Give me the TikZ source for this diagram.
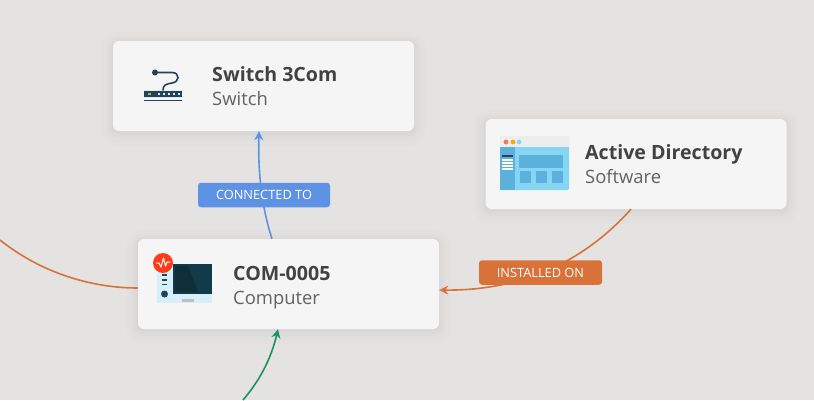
\documentclass[tikz,border=0pt]{standalone}
\usepackage{fontspec}
\setmainfont{Open Sans}
\usetikzlibrary{calc,positioning,arrows.meta}
\definecolor{BackGray}{RGB}{228, 227, 226}
\definecolor{CardWhite}{RGB}{245, 245, 245}
\definecolor{TitleDark}{RGB}{66, 66, 68}
\definecolor{SubGray}{RGB}{98, 98, 100}
\definecolor{LinkBlue}{RGB}{93, 146, 228}
\definecolor{LinkOrange}{RGB}{216, 114, 56}
\definecolor{LinkGreen}{RGB}{28, 148, 92}
\definecolor{IconSky}{RGB}{132, 214, 244}
\definecolor{IconPale}{RGB}{214, 239, 250}
\definecolor{IconMid}{RGB}{92, 176, 220}
\definecolor{IconInk}{RGB}{38, 66, 84}
\definecolor{ScreenDark}{RGB}{18, 58, 72}
\tikzset{
	softshadow/.style={
		preaction={draw=black, draw opacity=.008, line width=24pt, transform canvas={yshift=-3pt}},
		preaction={draw=black, draw opacity=.009, line width=17pt, transform canvas={yshift=-3pt}},
		preaction={draw=black, draw opacity=.010, line width=11pt, transform canvas={yshift=-2pt}},
		preaction={draw=black, draw opacity=.010, line width=6pt, transform canvas={yshift=-2pt}},
		preaction={draw=black, draw opacity=.010, line width=2pt, transform canvas={yshift=-1pt}},
	},
	cardbox/.style={softshadow, fill=CardWhite, rounded corners=6pt, minimum width=301pt, minimum height=90pt, inner sep=0pt},
	cardtitle/.style={anchor=base west, inner sep=0pt, text=TitleDark, font=\fontsize{19.6}{20}\selectfont\bfseries},
	cardsub/.style={anchor=base west, inner sep=0pt, text=SubGray, font=\fontsize{18.4}{19}\selectfont},
	linktag/.style={rounded corners=3pt, text=white, inner sep=0pt, minimum height=24.5pt, font=\fontsize{12.8}{13}\selectfont},
	linkline/.style={line width=1.6pt, -{Stealth[length=9pt,width=9pt]}},
}
\begin{document}
\begin{tikzpicture}
	\useasboundingbox (0pt,0pt) rectangle (814pt,-400pt);
	\fill[BackGray] (0pt,0pt) rectangle (814pt,-400pt);

	\node[cardbox] (switchCard) at (263.5pt,-86pt) {};
	\node[cardbox] (adCard) at (636pt,-164pt) {};
	\node[cardbox] (comCard) at (288.5pt,-284pt) {};

	\node[cardtitle] (switchTitle) at (212pt,-81pt) {Switch 3Com};
	\node[cardsub] (switchSub) at (212pt,-105pt) {Switch};
	\node[cardtitle] (adTitle) at (585pt,-159pt) {Active Directory};
	\node[cardsub] (adSub) at (585pt,-183pt) {Software};
	\node[cardtitle] (comTitle) at (233pt,-280pt) {COM-0005};
	\node[cardsub] (comSub) at (233pt,-304pt) {Computer};

	\coordinate (leftEnd) at (0pt,-240pt);
	\coordinate (greenEnd) at (243pt,-400pt);

	\draw[linkline, LinkBlue] ($(comCard.north)+(-16.5pt,0)$) .. controls (261pt,-205pt) and (258pt,-170pt) .. ($(switchCard.south)+(-4.5pt,0)$);
	\draw[linkline, LinkOrange] ($(adCard.south)+(-5pt,0)$) .. controls (590pt,-255pt) and (530pt,-291pt) .. (comCard.east |- 0,-290pt);
	\draw[line width=1.6pt, LinkOrange] (leftEnd) .. controls (40pt,-272pt) and (90pt,-288pt) .. (comCard.west |- 0,-288pt);
	\draw[linkline, LinkGreen] (greenEnd) .. controls (262pt,-378pt) and (272pt,-355pt) .. ($(comCard.south)+(-10.5pt,0)$);

	\node[linktag, fill=LinkBlue, minimum width=132pt] (connectedTag) at (264pt,-195pt) {CONNECTED TO};
	\node[linktag, fill=LinkOrange, minimum width=123pt] (installedTag) at (540.5pt,-272.5pt) {INSTALLED ON};

	% switch icon
	\fill[IconPale] (144pt,-89.5pt) rectangle (182pt,-98pt);
	\fill[IconInk] (144pt,-91pt) rectangle (182pt,-96.5pt);
	\fill[IconInk] (144pt,-99.5pt) rectangle (182pt,-101pt);
	\fill[yellow!70!black] (148pt,-93pt) rectangle (150.5pt,-95pt);
	\foreach \x in {158,163,168,173,178}
		\fill[IconPale] (\x pt,-93pt) rectangle +(2pt,-2pt);
	\draw[IconInk, line width=1.6pt, line cap=round] (153pt,-72.5pt) -- (172pt,-72.5pt) .. controls (180pt,-72.5pt) and (180pt,-82pt) .. (172pt,-83pt) .. controls (166pt,-84pt) and (163pt,-85pt) .. (163pt,-90pt);
	\fill[IconInk] (155pt,-72.5pt) circle (3pt);

	% computer icon
	\fill[IconPale] (157pt,-263pt) rectangle (173pt,-303pt);
	\fill[IconPale] (173pt,-294pt) rectangle (212pt,-303pt);
	\fill[ScreenDark] (173pt,-264pt) rectangle (212pt,-294pt);
	\fill[black!20!ScreenDark] (175pt,-266pt) -- (188pt,-266pt) -- (198pt,-292pt) -- (175pt,-292pt) -- cycle;
	\fill[gray!50] (182pt,-299pt) rectangle (194pt,-302pt);
	\foreach \y in {275,280,284.5}
		\draw[IconInk, line width=1.1pt] (162pt,-\y pt) -- (167pt,-\y pt);
	\fill[IconInk] (164.5pt,-294pt) circle (3.5pt);
	\fill[red!70!orange!90] (163pt,-263pt) circle (10pt);
	\draw[white, line width=1pt, line join=round] (156pt,-263pt) -- (159pt,-263pt) -- (161pt,-267pt) -- (163.5pt,-258pt) -- (165.5pt,-266pt) -- (167pt,-262pt) -- (170pt,-262pt);

	% software icon
	\fill[IconSky, rounded corners=1.5pt] (500pt,-136pt) rectangle (569pt,-190pt);
	\fill[black!7] (500pt,-136pt) rectangle (569pt,-147pt);
	\fill[IconMid] (500pt,-147pt) rectangle (515pt,-190pt);
	\fill[IconInk] (502pt,-155pt) rectangle (513pt,-157pt);
	\foreach \y in {159,162,165,168}
		\fill[white] (502pt,-\y pt) rectangle (513pt,-\y pt-2pt);
	\fill[IconMid] (519pt,-155pt) rectangle (563pt,-168pt);
	\foreach \x in {520,536,552}
		\fill[IconMid] (\x pt,-171pt) rectangle +(11pt,-12pt);
	\fill[red!55!orange!70] (506pt,-142pt) circle (2.4pt);
	\fill[orange!70!yellow] (513pt,-142pt) circle (2.4pt);
	\fill[IconSky] (519pt,-142pt) circle (2.4pt);
\end{tikzpicture}
\end{document}
